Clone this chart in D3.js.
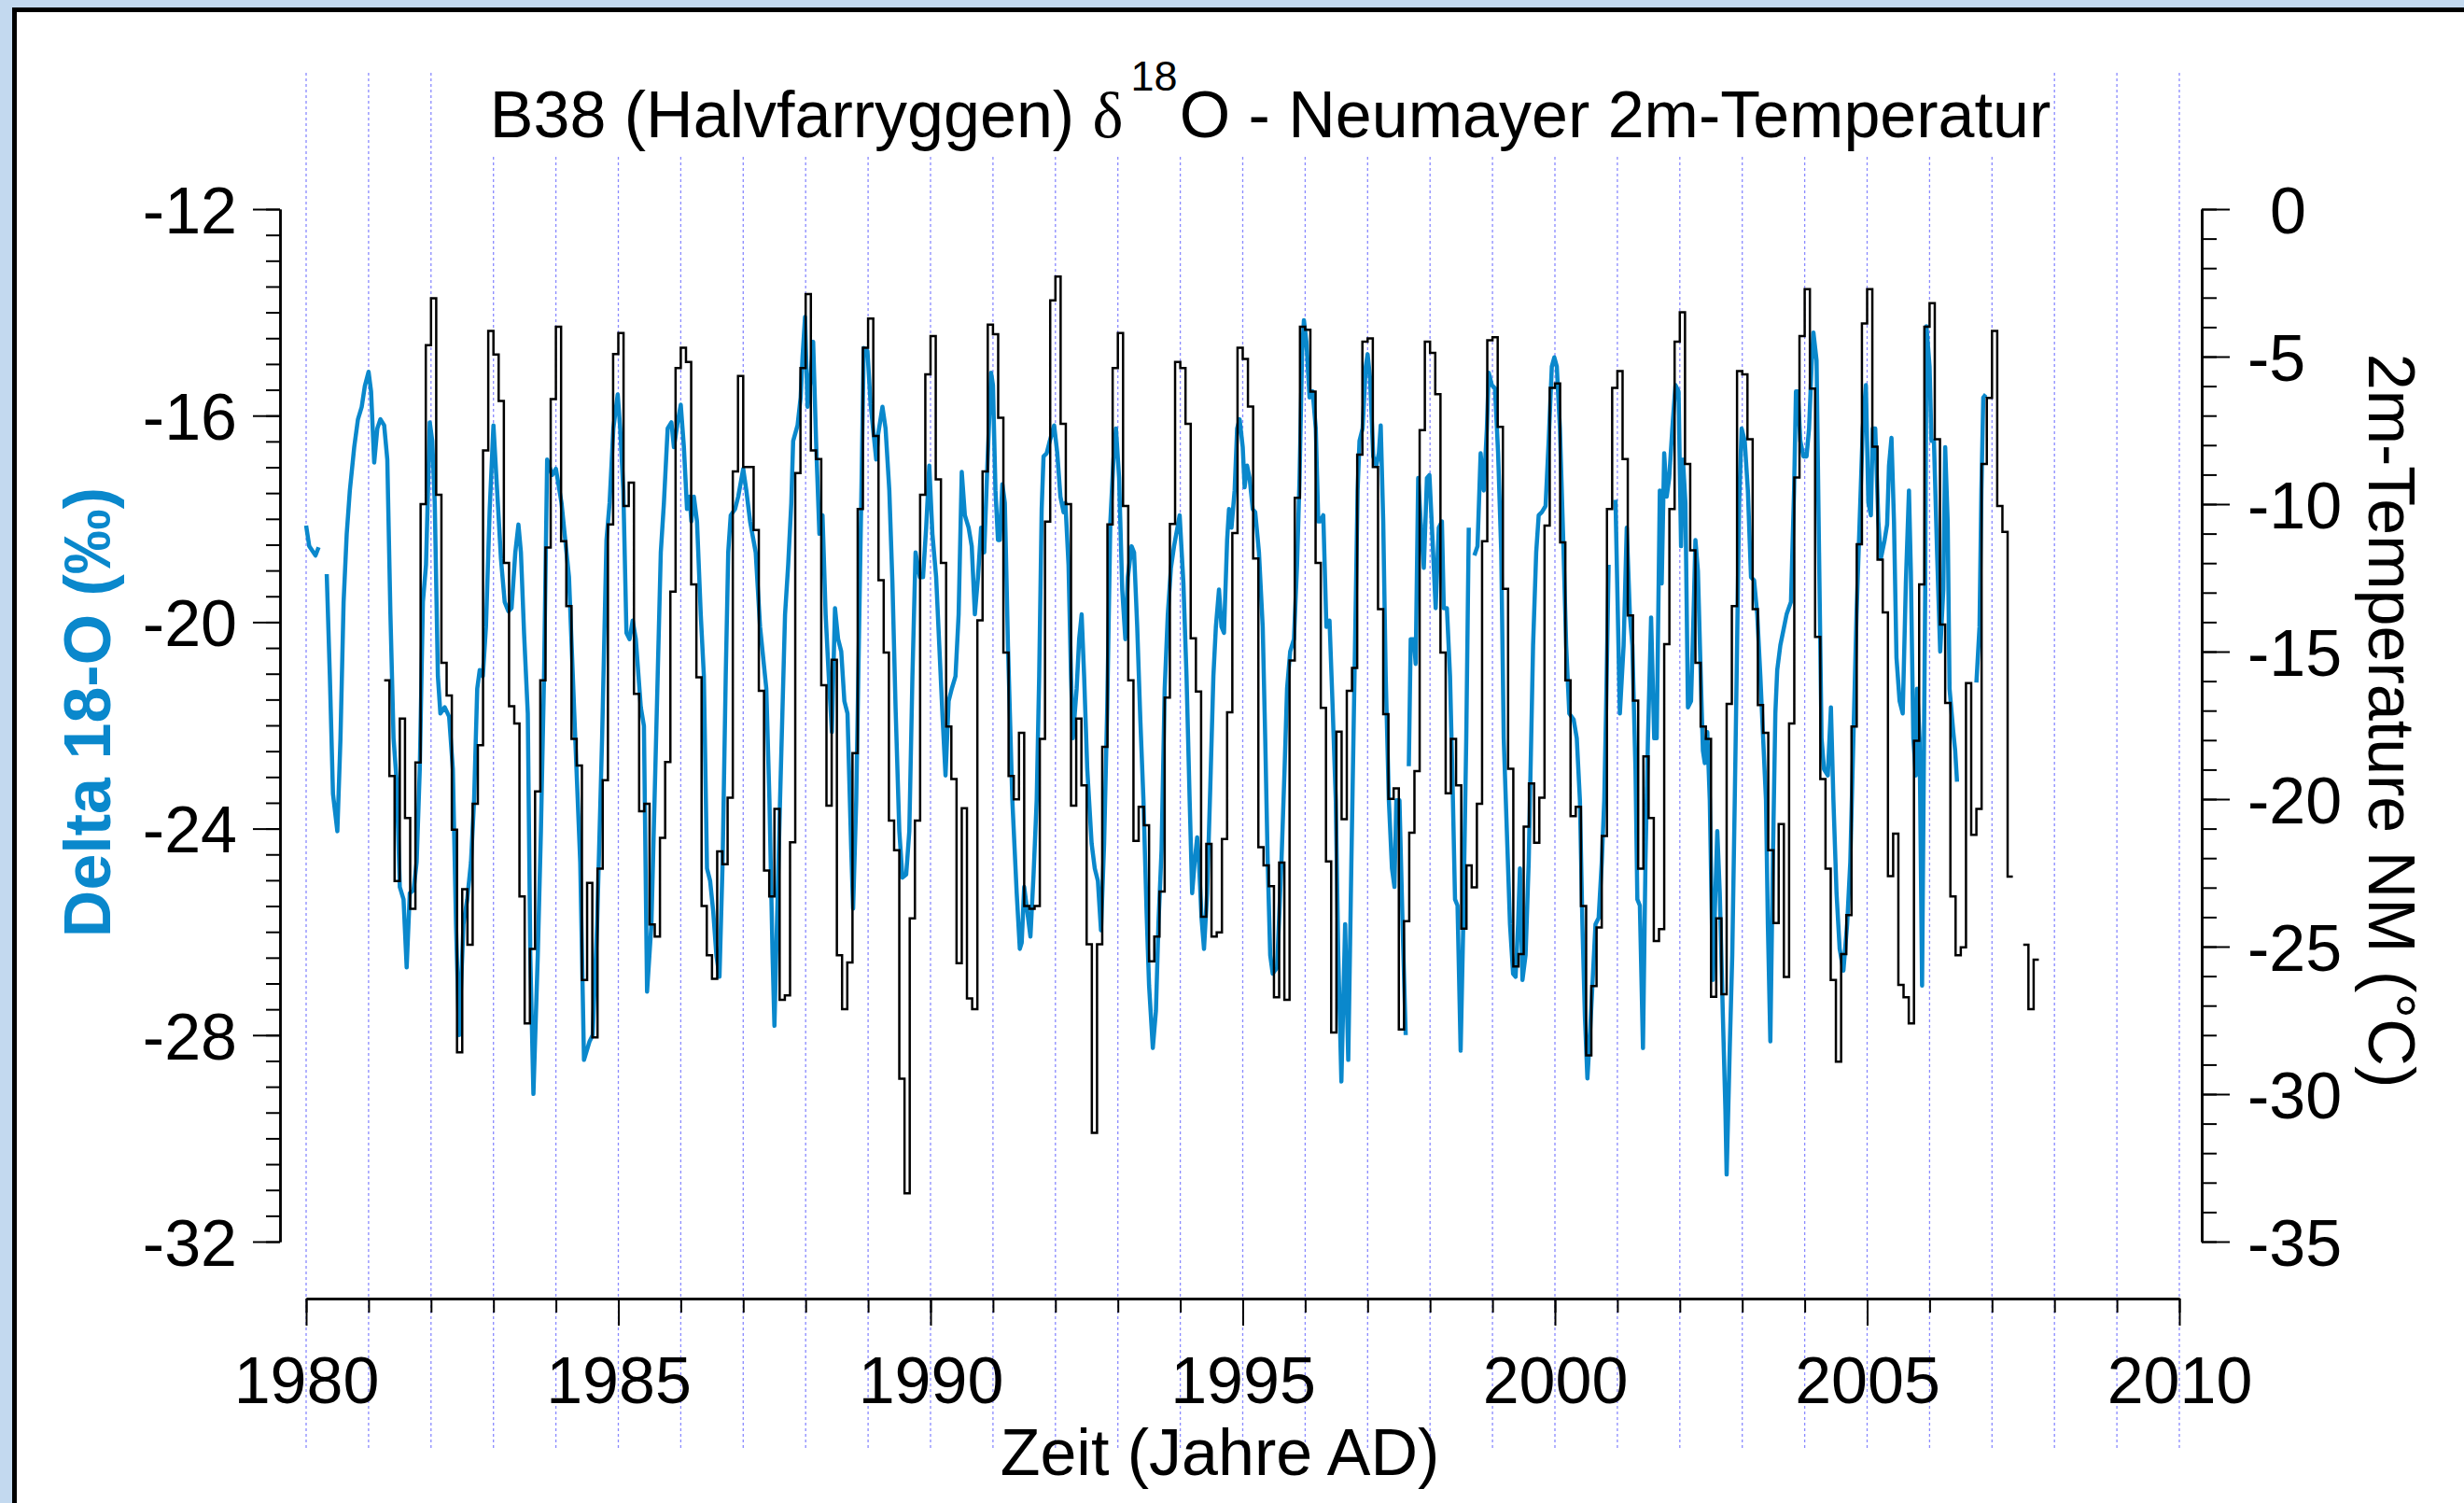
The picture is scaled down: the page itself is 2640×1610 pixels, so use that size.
<!DOCTYPE html>
<html>
<head>
<meta charset="utf-8">
<script src="https://cdn.jsdelivr.net/npm/d3@7"></script>
<style>
  body { margin: 0; background: #c3d9ef; overflow: hidden; }
  text { font-family: "Liberation Sans", Arial, Helvetica, sans-serif; }
</style>
</head>
<body>
<div id="chart"></div>
<script>
// B38 (Halvfarryggen) d18O against Neumayer 2m temperature.

// x axis: years (labelled every 5, tick and grid line every year)
const yearTicks = [1980, 1985, 1990, 1995, 2000, 2005, 2010];
const yearMinor = d3.range(1980, 2011, 1);
// left axis: delta 18-O in per mil
const o18Ticks = [-32, -28, -24, -20, -16, -12];
// right axis: 2m temperature in deg C
const tempTicks = [-35, -30, -25, -20, -15, -10, -5, 0];

// Neumayer monthly mean temperature, first value is April 1981, null = missing month
const tempStartYear = 1981;
const tempStartMonth = 3;
const tempMonthly = [
  -15.97, -19.22, -22.78, -17.27, -20.64, -23.72, -18.76, -10.0, -4.61,                // 1981
  -3.02, -9.68, -15.38, -16.49, -21.04, -28.58, -23.05, -24.94, -20.16, -18.17, -8.18, -4.13,   // 1982
  -4.93, -6.50, -11.99, -16.85, -17.44, -23.30, -27.60, -25.08, -19.74, -15.97, -11.47, -6.44,  // 1983
  -3.99, -11.26, -13.46, -17.96, -18.86, -26.13, -22.84, -28.08, -22.36, -19.36, -10.69, -4.91, // 1984
  -4.20, -10.06, -9.27, -16.43, -20.41, -20.16, -24.25, -24.66, -21.31, -18.74, -12.97, -5.39,  // 1985
  -4.70, -5.18, -12.72, -15.87, -23.62, -25.29, -26.09, -21.77, -22.21, -19.95, -8.89, -5.66,   // 1986
  -8.74, -8.74, -10.88, -16.33, -22.42, -23.30, -20.33, -26.80, -26.65, -21.46, -8.95, -5.39,   // 1987
  -2.88, -8.18, -8.47, -16.14, -20.22, -15.28, -25.29, -27.12, -25.54, -18.44, -10.17, -4.70,   // 1988
  -3.71, -7.69, -12.58, -15.03, -20.73, -21.73, -29.48, -33.36, -24.04, -20.73, -9.68, -5.60,   // 1989
  -4.30, -9.16, -11.99, -17.54, -19.32, -25.56, -20.31, -26.76, -27.12, -13.94, -8.89, -3.92,   // 1990
  -4.24, -7.07, -15.03, -19.22, -20.01, -17.75, -23.62, -23.72, -23.62, -17.96, -10.59, -3.09,  // 1991
  -2.29, -7.28, -10.00, -20.22, -17.27, -19.53, -24.92, -31.31, -24.92, -18.23, -10.69, -5.39,  // 1992
  -4.20, -10.06, -15.97, -21.42, -20.26, -20.89, -25.50, -24.66, -23.13, -16.56, -10.67, -5.18, // 1993
  -5.39, -7.28, -14.55, -16.35, -23.99, -21.52, -24.66, -24.52, -21.35, -17.06, -10.98, -4.70,  // 1994
  -5.08, -6.69, -11.84, -21.63, -22.25, -22.95, -26.72, -22.15, -26.80, -15.30, -9.79, -3.99,   // 1995
  -4.09, -6.19, -11.99, -16.91, -22.11, -27.91, -17.71, -20.68, -16.33, -15.55, -8.32, -4.49,   // 1996
  -4.38, -8.74, -13.56, -17.12, -19.99, -19.64, -27.81, -24.14, -21.14, -19.05, -7.49, -4.49,   // 1997
  -4.87, -6.27, -15.03, -19.80, -17.96, -19.53, -24.39, -22.25, -22.99, -20.16, -11.26, -4.45,  // 1998
  -4.34, -7.38, -12.87, -18.97, -25.67, -25.25, -20.93, -19.47, -21.48, -19.95, -10.73, -6.06,  // 1999
  -5.91, -11.30, -15.97, -20.58, -20.26, -23.62, -28.69, -26.34, -24.35, -21.25, -10.17, -6.06, // 2000
  -5.49, -8.47, -13.77, -16.66, -22.36, -18.55, -20.64, -24.81, -24.41, -14.75, -10.17, -4.49,  // 2001
  -3.50, -8.64, -11.57, -15.38, -17.54, -17.96, -26.70, -24.04, -26.61, -16.77, -13.46, -5.49,  // 2002
  -5.60, -7.80, -13.56, -16.81, -17.75, -21.73, -24.20, -20.85, -26.03, -17.44, -9.10, -4.30,   // 2003
  -2.71, -6.08, -14.50, -19.32, -22.36, -26.13, -28.90, -25.25, -23.93, -17.54, -11.36, -3.88,  // 2004
  -2.71, -8.05, -11.88, -13.67, -22.61, -21.17, -26.30, -26.72, -27.60, -18.02, -12.72, -3.99,  // 2005
  -3.19, -7.80, -14.08, -16.74, -23.30, -25.29, -25.02, -16.07, -21.21, -20.33, -8.64, -6.40,   // 2006
  -4.13, -10.06, -10.94, -22.63, null, null, -24.94, -27.12, -25.44                       // 2007
];

// B38 d18O record: [decimal year, per mil], null marks a gap in the record
const o18Series = [
  [1980.00,-18.13],[1980.05,-18.53],[1980.15,-18.71],[1980.20,-18.55], null,
  [1980.33,-19.07],[1980.38,-21.05],[1980.43,-23.33],[1980.50,-24.05],[1980.55,-22.25],[1980.60,-19.61],
  [1980.65,-18.29],[1980.70,-17.45],[1980.77,-16.61],[1980.83,-16.07],[1980.89,-15.83],[1980.94,-15.43],
  [1981.00,-15.15],[1981.04,-15.53],[1981.09,-16.91],[1981.14,-16.25],[1981.19,-16.07],[1981.25,-16.19],
  [1981.30,-16.85],[1981.35,-19.85],[1981.40,-22.25],[1981.45,-23.09],[1981.50,-25.13],[1981.56,-25.37],
  [1981.61,-26.69],[1981.66,-25.25],[1981.72,-25.19],[1981.77,-24.65],[1981.82,-22.85],[1981.87,-19.61],
  [1981.92,-18.89],[1981.98,-16.13],[1982.02,-16.49],[1982.06,-17.69],[1982.11,-21.05],[1982.15,-21.77],
  [1982.22,-21.65],[1982.29,-21.83],[1982.35,-22.85],[1982.40,-25.85],[1982.45,-28.00],[1982.52,-25.85],
  [1982.58,-25.37],[1982.64,-24.65],[1982.69,-23.45],[1982.74,-21.29],[1982.78,-20.93],[1982.83,-21.05],
  [1982.88,-20.09],[1982.94,-17.81],[1983.00,-16.19],[1983.07,-17.69],[1983.12,-18.77],[1983.18,-19.61],
  [1983.24,-19.79],[1983.29,-19.73],[1983.35,-18.65],[1983.40,-18.11],[1983.44,-18.65],[1983.49,-20.21],
  [1983.55,-21.77],[1983.59,-26.45],[1983.64,-29.14],[1983.71,-26.45],[1983.76,-24.05],[1983.81,-21.05],
  [1983.86,-16.85],[1983.94,-17.15],[1984.00,-17.03],[1984.09,-17.69],[1984.15,-18.41],[1984.21,-19.13],
  [1984.31,-22.25],[1984.39,-24.65],[1984.45,-28.48],[1984.54,-28.12],[1984.59,-28.00],[1984.66,-25.85],
  [1984.74,-22.25],[1984.81,-18.41],[1984.86,-17.69],[1984.92,-16.25],[1984.99,-15.59],[1985.03,-16.25],
  [1985.08,-17.45],[1985.13,-20.21],[1985.18,-20.33],[1985.23,-19.97],[1985.28,-20.33],[1985.36,-21.65],
  [1985.41,-22.01],[1985.46,-27.16],[1985.53,-25.85],[1985.58,-23.45],[1985.63,-21.05],[1985.68,-18.65],
  [1985.73,-17.69],[1985.79,-16.25],[1985.85,-16.13],[1985.89,-16.61],[1985.95,-16.13],[1986.00,-15.79],
  [1986.05,-16.61],[1986.10,-17.81],[1986.14,-17.57],[1986.17,-18.05],[1986.21,-17.57],[1986.26,-18.05],
  [1986.32,-19.85],[1986.37,-21.05],[1986.42,-24.77],[1986.47,-25.01],[1986.52,-25.61],[1986.57,-26.45],
  [1986.62,-26.87],[1986.67,-24.65],[1986.72,-21.05],[1986.76,-18.65],[1986.80,-17.93],[1986.87,-17.81],
  [1986.92,-17.57],[1987.00,-17.03],[1987.05,-17.45],[1987.11,-18.05],[1987.20,-18.65],[1987.27,-20.09],
  [1987.37,-21.29],[1987.42,-23.45],[1987.47,-26.45],[1987.50,-27.82],[1987.54,-25.85],[1987.59,-23.45],
  [1987.67,-19.85],[1987.72,-18.89],[1987.77,-17.69],[1987.80,-16.49],[1987.87,-16.19],[1987.92,-15.65],
  [1987.95,-14.87],[1987.99,-14.09],[1988.03,-15.83],[1988.07,-15.41],[1988.12,-14.57],[1988.17,-16.61],
  [1988.22,-18.29],[1988.27,-17.93],[1988.32,-19.85],[1988.37,-21.05],[1988.42,-22.13],[1988.47,-19.73],
  [1988.52,-20.33],[1988.57,-20.57],[1988.62,-21.53],[1988.67,-21.77],[1988.73,-24.41],[1988.76,-25.55],
  [1988.81,-23.45],[1988.86,-19.85],[1988.89,-17.69],[1988.93,-14.69],[1988.99,-14.75],[1989.04,-15.77],
  [1989.09,-16.37],[1989.13,-16.85],[1989.16,-16.37],[1989.23,-15.83],[1989.28,-16.25],[1989.34,-17.45],
  [1989.39,-19.25],[1989.44,-21.65],[1989.50,-24.05],[1989.55,-24.95],[1989.61,-24.89],[1989.66,-24.05],
  [1989.71,-21.05],[1989.76,-18.65],[1989.83,-19.13],[1989.88,-19.13],[1989.93,-18.17],[1989.98,-16.97],
  [1990.03,-18.29],[1990.09,-19.13],[1990.14,-20.45],[1990.19,-21.77],[1990.24,-22.97],[1990.29,-21.53],
  [1990.34,-21.29],[1990.40,-21.05],[1990.45,-19.85],[1990.50,-17.09],[1990.55,-17.93],[1990.61,-18.17],
  [1990.66,-18.53],[1990.71,-19.85],[1990.76,-19.13],[1990.81,-18.17],[1990.86,-18.65],[1990.91,-16.97],
  [1990.97,-15.17],[1991.00,-15.41],[1991.04,-17.45],[1991.08,-18.41],[1991.11,-18.41],[1991.15,-17.33],
  [1991.19,-17.69],[1991.24,-20.45],[1991.31,-23.45],[1991.38,-25.25],[1991.43,-26.33],[1991.46,-26.21],
  [1991.50,-25.13],[1991.55,-25.61],[1991.60,-26.09],[1991.65,-24.89],[1991.70,-23.45],[1991.74,-21.05],
  [1991.78,-17.81],[1991.81,-16.79],[1991.86,-16.73],[1991.91,-16.49],[1991.98,-16.19],[1992.03,-16.73],
  [1992.08,-17.57],[1992.13,-17.87],[1992.16,-17.69],[1992.21,-18.89],[1992.25,-21.05],[1992.28,-22.25],
  [1992.34,-21.29],[1992.38,-20.33],[1992.42,-19.85],[1992.46,-21.05],[1992.51,-22.85],[1992.58,-24.29],
  [1992.63,-24.77],[1992.68,-25.01],[1992.73,-25.97],[1992.78,-24.29],[1992.83,-21.65],[1992.88,-18.05],
  [1992.93,-16.85],[1992.97,-16.25],[1993.02,-17.21],[1993.07,-19.37],[1993.12,-20.33],[1993.16,-19.13],
  [1993.22,-18.53],[1993.26,-18.65],[1993.31,-20.09],[1993.36,-21.89],[1993.41,-23.45],[1993.46,-25.61],
  [1993.50,-27.04],[1993.56,-28.25],[1993.61,-27.53],[1993.65,-25.85],[1993.70,-24.41],[1993.75,-21.29],
  [1993.80,-19.85],[1993.85,-18.95],[1993.90,-18.53],[1993.99,-17.93],[1994.05,-19.25],[1994.10,-21.05],
  [1994.15,-23.45],[1994.19,-25.25],[1994.23,-24.65],[1994.27,-24.17],[1994.30,-24.65],[1994.34,-25.73],
  [1994.38,-26.33],[1994.43,-25.25],[1994.48,-23.21],[1994.53,-21.05],[1994.57,-20.09],[1994.62,-19.37],
  [1994.66,-20.09],[1994.70,-20.21],[1994.75,-18.41],[1994.78,-17.81],[1994.82,-18.17],[1994.87,-17.45],
  [1994.91,-16.25],[1994.95,-16.07],[1995.00,-16.61],[1995.03,-17.39],[1995.07,-16.97],[1995.11,-17.21],
  [1995.16,-17.81],[1995.20,-17.87],[1995.26,-18.65],[1995.32,-20.09],[1995.36,-22.25],[1995.40,-24.65],
  [1995.44,-26.45],[1995.48,-26.81],[1995.55,-26.69],[1995.62,-24.65],[1995.67,-22.85],[1995.71,-21.29],
  [1995.76,-20.57],[1995.82,-20.33],[1995.87,-18.89],[1995.91,-17.21],[1995.95,-14.81],[1995.98,-14.15],
  [1996.02,-14.57],[1996.07,-15.65],[1996.12,-15.53],[1996.17,-16.25],[1996.21,-18.05],[1996.24,-18.05],
  [1996.29,-17.93],[1996.34,-20.09],[1996.39,-19.97],[1996.44,-21.65],[1996.49,-23.45],[1996.53,-26.45],
  [1996.58,-28.90],[1996.64,-25.85],[1996.69,-28.48],[1996.74,-24.65],[1996.79,-21.05],[1996.84,-17.45],
  [1996.87,-16.49],[1996.92,-16.25],[1996.97,-15.05],[1997.00,-14.81],[1997.04,-15.29],[1997.09,-16.79],
  [1997.14,-16.97],[1997.18,-16.73],[1997.21,-16.19],[1997.25,-18.05],[1997.29,-21.05],[1997.34,-23.45],
  [1997.39,-24.77],[1997.43,-25.13],[1997.46,-23.45],[1997.51,-23.45],[1997.56,-25.85],[1997.61,-28.00], null,
  [1997.66,-22.79],[1997.69,-20.33],[1997.74,-20.33],[1997.77,-20.81],[1997.81,-17.21],[1997.85,-18.05],
  [1997.90,-18.95],[1997.95,-17.21],[1997.99,-17.15],[1998.04,-18.41],[1998.09,-19.73],[1998.14,-18.17],
  [1998.19,-18.05],[1998.22,-19.73],[1998.27,-19.73],[1998.32,-21.05],[1998.36,-23.09],[1998.40,-25.37],
  [1998.44,-25.49],[1998.49,-28.30],[1998.53,-25.97],[1998.58,-22.25],[1998.62,-18.17], null,
  [1998.71,-18.71],[1998.76,-18.53],[1998.81,-16.73],[1998.86,-17.45],[1998.91,-16.25],[1998.94,-15.17],
  [1998.99,-15.41],[1999.04,-15.47],[1999.09,-16.73],[1999.14,-18.65],[1999.18,-22.25],[1999.23,-24.05],
  [1999.28,-25.85],[1999.33,-26.81],[1999.37,-26.87],[1999.41,-25.85],[1999.44,-24.77],[1999.48,-26.93],
  [1999.53,-26.45],[1999.58,-24.65],[1999.62,-22.25],[1999.65,-20.45],[1999.70,-18.65],[1999.74,-17.93],
  [1999.79,-17.87],[1999.85,-17.75],[1999.90,-16.49],[1999.95,-15.05],[1999.99,-14.87],[2000.03,-15.05],
  [2000.08,-16.25],[2000.13,-18.29],[2000.18,-20.45],[2000.23,-21.77],[2000.30,-21.89],[2000.35,-22.25],
  [2000.40,-23.45],[2000.44,-25.85],[2000.48,-27.64],[2000.52,-28.84],[2000.56,-28.00],[2000.60,-27.04],
  [2000.65,-25.85],[2000.70,-25.73],[2000.75,-24.65],[2000.79,-23.45],[2000.82,-21.65],[2000.86,-18.89], null,
  [2000.97,-17.63],[2001.04,-21.77],[2001.10,-20.45],[2001.15,-18.17],[2001.20,-19.85],[2001.24,-20.45],
  [2001.29,-22.85],[2001.32,-25.37],[2001.36,-25.49],[2001.41,-28.25],[2001.45,-24.65],[2001.49,-22.25],
  [2001.54,-19.91],[2001.59,-22.25],[2001.63,-22.25],[2001.68,-17.45],[2001.71,-19.25],[2001.75,-16.73],
  [2001.79,-17.57],[2001.83,-17.21],[2001.88,-16.25],[2001.93,-15.41],[2001.98,-15.53],[2002.02,-18.53],
  [2002.05,-16.85],[2002.09,-17.69],[2002.13,-21.65],[2002.18,-21.53],[2002.22,-19.85],[2002.25,-18.41],
  [2002.29,-19.01],[2002.33,-20.81],[2002.37,-22.49],[2002.40,-22.73],[2002.44,-22.13],[2002.48,-23.45],
  [2002.53,-26.93],[2002.57,-25.25],[2002.60,-24.05],[2002.64,-25.25],[2002.69,-27.64],[2002.73,-29.44],
  [2002.75,-30.70],[2002.80,-28.25],[2002.84,-26.45],[2002.88,-23.45],[2002.91,-21.05],[2002.95,-17.69],
  [2002.99,-16.25],[2003.04,-16.49],[2003.09,-17.45],[2003.14,-19.13],[2003.19,-19.19],[2003.24,-19.85],
  [2003.29,-21.05],[2003.33,-22.13],[2003.38,-23.45],[2003.41,-25.85],[2003.45,-28.12],[2003.49,-24.65],
  [2003.53,-21.77],[2003.56,-20.93],[2003.61,-20.45],[2003.66,-20.15],[2003.71,-19.85],[2003.78,-19.61],
  [2003.83,-17.45],[2003.86,-15.53],[2003.89,-15.53],[2003.93,-16.49],[2003.98,-16.79],[2004.03,-16.79],
  [2004.07,-16.25],[2004.11,-15.05],[2004.14,-14.39],[2004.19,-14.93],[2004.23,-18.65],[2004.27,-22.25],
  [2004.31,-22.85],[2004.37,-22.97],[2004.42,-21.65],[2004.46,-23.45],[2004.51,-25.25],[2004.56,-26.33],
  [2004.62,-26.75],[2004.68,-25.85],[2004.73,-24.65],[2004.78,-22.25],[2004.83,-19.85],[2004.88,-18.05],
  [2004.93,-16.25],[2004.98,-15.41],[2005.02,-17.69],[2005.06,-17.93],[2005.09,-16.25],[2005.13,-16.25],
  [2005.18,-18.05],[2005.22,-18.77],[2005.28,-18.41],[2005.32,-18.11],[2005.35,-16.97],[2005.39,-16.43],
  [2005.43,-18.05],[2005.47,-20.69],[2005.52,-21.53],[2005.57,-21.77],[2005.62,-19.25],[2005.67,-17.45],
  [2005.70,-19.01],[2005.74,-22.25],[2005.78,-22.97],[2005.80,-21.29],[2005.84,-22.25],[2005.88,-27.04],
  [2005.93,-19.37],[2005.95,-14.27],[2006.00,-15.05],[2006.03,-16.49],[2006.07,-16.49],[2006.12,-18.65],
  [2006.17,-20.57],[2006.22,-19.37],[2006.25,-16.61],[2006.29,-18.05],[2006.32,-21.29],[2006.38,-22.13],
  [2006.41,-22.49],[2006.44,-23.09], null,
  [2006.75,-21.17],[2006.80,-20.09],[2006.83,-17.45],[2006.86,-15.65],[2006.90,-15.59]
];

// Page and plot geometry
const width = 2640, height = 1610;
const plot = { left: 328, right: 2335, top: 224, bottom: 1330, axisY: 1391, leftAxisX: 300, rightAxisX: 2359 };

const svg = d3.select("#chart")
  .append("svg")
  .attr("width", width)
  .attr("height", height);

// White panel with a black frame, light blue page around it
svg.append("rect")
  .attr("x", 15.5).attr("y", 10.5)
  .attr("width", width).attr("height", height)
  .attr("fill", "white")
  .attr("stroke", "black")
  .attr("stroke-width", 5);

// Scales
const xScale = d3.scaleLinear().domain([1980, 2010]).range([plot.left, plot.right]);
const yO18 = d3.scaleLinear().domain([-32, -12]).range([plot.bottom, plot.top]);
const yTemp = d3.scaleLinear().domain([-35, 0]).range([plot.bottom, plot.top]);

// Dotted year grid lines
svg.append("g")
  .selectAll("line")
  .data(yearMinor)
  .enter()
  .append("line")
  .attr("x1", d => xScale(d)).attr("x2", d => xScale(d))
  .attr("y1", 78).attr("y2", 1552)
  .attr("stroke", "#8a8aff")
  .attr("stroke-width", 1.3)
  .attr("stroke-dasharray", "3,3");

// d18O line
const o18Line = d3.line()
  .defined(d => d !== null)
  .x(d => xScale(d[0]))
  .y(d => yO18(d[1]));

svg.append("path")
  .datum(o18Series)
  .attr("d", o18Line)
  .attr("fill", "none")
  .attr("stroke", "#0a88cc")
  .attr("stroke-width", 4.5)
  .attr("stroke-linejoin", "round");

// Temperature as monthly steps: each month is a flat segment
const tempSteps = [];
tempMonthly.forEach((v, i) => {
  if (v === null) { tempSteps.push(null); return; }
  const t0 = tempStartYear + (tempStartMonth + i) / 12;
  tempSteps.push([t0, v], [t0 + 1 / 12, v]);
});

const tempLine = d3.line()
  .defined(d => d !== null)
  .x(d => xScale(d[0]))
  .y(d => yTemp(d[1]));

svg.append("path")
  .datum(tempSteps)
  .attr("d", tempLine)
  .attr("fill", "none")
  .attr("stroke", "black")
  .attr("stroke-width", 2.5);

// Axes: one call for the labelled ticks, one for the minor ticks
function styleAxis(g) {
  g.attr("font-size", 70);
  g.select(".domain").attr("stroke-width", 2.5);
  g.selectAll(".tick line").attr("stroke-width", 2);
}

svg.append("g")
  .attr("transform", "translate(0," + plot.axisY + ")")
  .call(d3.axisBottom(xScale).tickValues(yearMinor).tickSize(15).tickSizeOuter(0).tickFormat(""))
  .call(styleAxis);
svg.append("g")
  .attr("transform", "translate(0," + plot.axisY + ")")
  .call(d3.axisBottom(xScale).tickValues(yearTicks).tickSize(29).tickSizeOuter(0).tickPadding(33).tickFormat(d => String(d)))
  .call(styleAxis);

svg.append("g")
  .attr("transform", "translate(" + plot.leftAxisX + ",0)")
  .call(d3.axisLeft(yO18).tickValues(d3.range(-32, -11.9, 0.5)).tickSize(15).tickSizeOuter(0).tickFormat(""))
  .call(styleAxis);
svg.append("g")
  .attr("transform", "translate(" + plot.leftAxisX + ",0)")
  .call(d3.axisLeft(yO18).tickValues(o18Ticks).tickSize(29).tickSizeOuter(0).tickPadding(17).tickFormat(d => String(d)))
  .call(styleAxis)
  .selectAll("text").attr("dy", "0.36em");

svg.append("g")
  .attr("transform", "translate(" + plot.rightAxisX + ",0)")
  .call(d3.axisRight(yTemp).tickValues(d3.range(-35, 0.1, 1)).tickSize(16).tickSizeOuter(0).tickFormat(""))
  .call(styleAxis);
svg.append("g")
  .attr("transform", "translate(" + plot.rightAxisX + ",0)")
  .call(d3.axisRight(yTemp).tickValues(tempTicks).tickSize(30).tickSizeOuter(0).tickPadding(19).tickFormat(d => String(d)))
  .call(styleAxis)
  .selectAll("text")
  .attr("dy", "0.36em")
  .attr("x", d => d < 0 ? 49 : 73);   // positive labels leave room for the sign

// Title on a white box that hides the grid lines behind it
svg.append("rect")
  .attr("x", 516).attr("y", 77)
  .attr("width", 1678).attr("height", 89)
  .attr("fill", "white");

// Title flows as one line; the superscript is raised with dy
const title = svg.append("text")
  .attr("x", 525)
  .attr("y", 147)
  .attr("font-size", 70);
title.append("tspan").text("B38 (Halvfarryggen) ");
title.append("tspan").style("font-family", "'Liberation Serif', 'DejaVu Serif', serif").text("δ");
title.append("tspan").attr("dx", 8).attr("dy", -50).attr("font-size", 45).text("18");
title.append("tspan").attr("dx", 2).attr("dy", 50).text("O - Neumayer 2m-Temperatur");

// Centre the finished title over the span the reference uses
const titleWidth = title.node().getComputedTextLength();
title.attr("x", 1356 - titleWidth / 2);

// Axis titles
svg.append("text")
  .attr("x", 1307).attr("y", 1580)
  .attr("text-anchor", "middle")
  .attr("font-size", 70)
  .text("Zeit (Jahre AD)");

svg.append("text")
  .attr("transform", "translate(118,763) rotate(-90)")
  .attr("text-anchor", "middle")
  .attr("font-size", 70)
  .attr("font-weight", "bold")
  .attr("fill", "#0a88cc")
  .text("Delta 18-O (‰)");

svg.append("text")
  .attr("transform", "translate(2538,772) rotate(90)")
  .attr("text-anchor", "middle")
  .attr("font-size", 70)
  .text("2m-Temperature NM (°C)");
</script>
</body>
</html>
